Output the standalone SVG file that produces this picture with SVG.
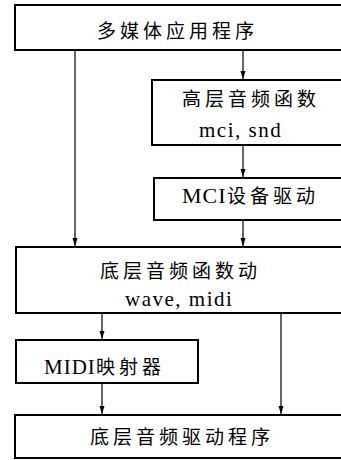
<svg xmlns="http://www.w3.org/2000/svg" width="341" height="460" viewBox="0 0 341 460">
<style>
.box{fill:#fff;stroke:#000;stroke-width:2}
.cn{fill:none;stroke:#000;stroke-width:1.2;marker-end:url(#ah)}
.t{font-family:"Liberation Serif","Noto Sans CJK SC",serif;font-size:19px;letter-spacing:4px;fill:#000}
.e{font-family:"Liberation Serif",serif;font-size:21px;letter-spacing:1.5px;fill:#000}
.l{font-family:"Liberation Serif",serif;font-size:22px;letter-spacing:1px}
</style>
<defs>
<marker id="ah" viewBox="0 0 8 10" refX="8" refY="5" markerWidth="8" markerHeight="10" markerUnits="userSpaceOnUse" orient="auto">
<path d="M0,2.5 L8,5 L0,7.5 Z" fill="#000"/>
</marker>
</defs>
<rect width="341" height="460" fill="#fff"/>
<g id="connectors">
<line class="cn" x1="75" y1="50" x2="75" y2="246"/>
<line class="cn" x1="243" y1="50" x2="243" y2="79"/>
<line class="cn" x1="243" y1="145" x2="243" y2="177"/>
<line class="cn" x1="243" y1="220" x2="243" y2="246"/>
<line class="cn" x1="102" y1="313" x2="102" y2="339"/>
<line class="cn" x1="102" y1="383" x2="102" y2="414"/>
<line class="cn" x1="281" y1="313" x2="281" y2="414"/>
</g>
<g id="app">
<rect class="box" x="15" y="5" width="340" height="45"/>
<text class="t" x="97" y="38">多媒体应用程序</text>
</g>
<g id="high">
<rect class="box" x="152" y="80" width="200" height="65"/>
<text class="t" x="182" y="106">高层音频函数</text>
<text class="e" x="199" y="137">mci,  snd</text>
</g>
<g id="mci">
<rect class="box" x="154" y="178" width="200" height="42"/>
<text class="t" x="182" y="203"><tspan class="l">MCI</tspan><tspan x="227">设备驱动</tspan></text>
</g>
<g id="low">
<rect class="box" x="16" y="247" width="340" height="66"/>
<text class="t" x="100" y="278">底层音频函数动</text>
<text class="e" x="125" y="306">wave,  midi</text>
</g>
<g id="midi">
<rect class="box" x="16" y="340" width="182" height="43"/>
<text class="t" x="44" y="374"><tspan class="l" style="font-size:21px">MIDI</tspan><tspan x="96">映射器</tspan></text>
</g>
<g id="driver">
<rect class="box" x="15" y="415" width="340" height="43"/>
<text class="t" x="90" y="444">底层音频驱动程序</text>
</g>
</svg>
